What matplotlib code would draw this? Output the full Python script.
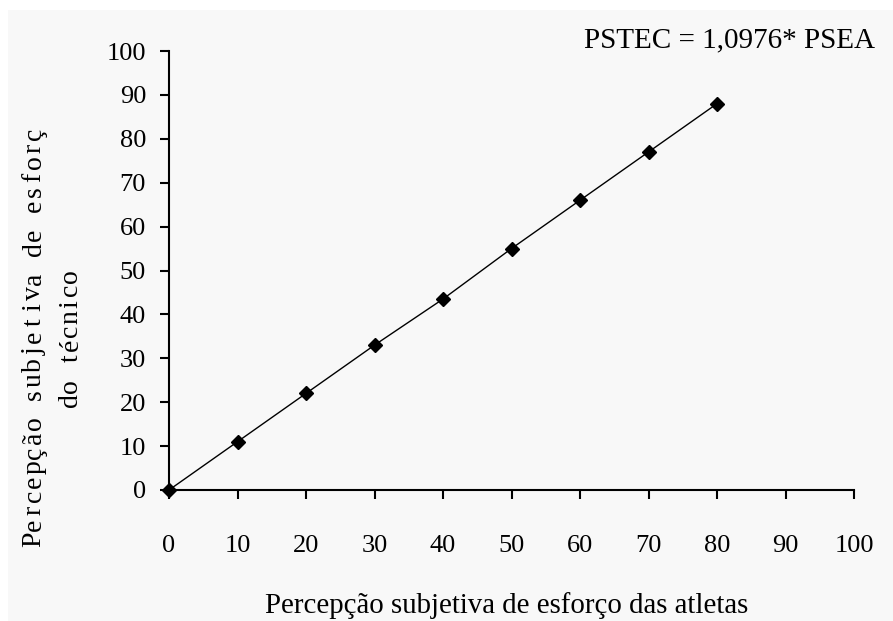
import numpy as np
import matplotlib
matplotlib.use('Agg')
import matplotlib.pyplot as plt
from matplotlib.patches import Rectangle
from matplotlib.transforms import Bbox

plt.rcParams['font.family'] = ['Liberation Serif', 'DejaVu Serif']

# data
psea = [0, 10, 20, 30, 40, 50, 60, 70, 80]
pstec = [0, 11, 22, 33, 43.5, 55, 66, 77, 88]
ticks = [0, 10, 20, 30, 40, 50, 60, 70, 80, 90, 100]

equation = 'PSTEC = 1,0976* PSEA'
xlabel = 'Percepção subjetiva de esforço das atletas'
ylabel1 = 'Percepção subjetiva de esforço'
ylabel2 = 'do técnico'

W, H = 893, 621
fig = plt.figure(figsize=(W / 100, H / 100), dpi=100, facecolor='white')
# light grey panel with a thin white border on top and left
fig.patches.append(Rectangle((8 / W, 0), 1, (H - 10) / H, transform=fig.transFigure,
                             facecolor='#f8f8f8', edgecolor='none', zorder=-10))

ax = fig.add_axes([169 / W, (H - 490) / H, (854 - 169) / W, (490 - 51) / H])
ax.set_facecolor('none')

ax.plot(psea, pstec, color='black', lw=1.0, marker='D', markersize=7.5,
        markerfacecolor='black', markeredgecolor='black', clip_on=False, zorder=3)

ax.set_xlim(0, 100)
ax.set_ylim(0, 100)
ax.set_xticks(ticks)
ax.set_yticks(ticks)
for s in ['top', 'right']:
    ax.spines[s].set_visible(False)
for s in ['left', 'bottom']:
    ax.spines[s].set_linewidth(1.5)
ax.tick_params(axis='both', direction='out', length=6.5, width=1.5, labelsize=19)
ax.tick_params(axis='x', pad=26)
ax.tick_params(axis='y', pad=10)

fig.text(875 / W, (H - 47) / H, equation, ha='right', va='baseline', fontsize=21)
fig.text(507 / W, (H - 613) / H, xlabel, ha='center', va='baseline', fontsize=20.8)

# y label: widely spaced letters, first line cut off at the top of the panel
clip = Bbox([[0, 0], [W, H - 130]])
for i, ch in enumerate(ylabel1):
    t = fig.text(34 / W, (H - 547 + 7.5 + i * 14.5) / H, ch, rotation=90,
                 ha='center', va='center', fontsize=20)
    t.set_clip_box(clip)
    t.set_clip_on(True)
n2 = len(ylabel2)
for i, ch in enumerate(ylabel2):
    yc = 338 - (i - (n2 - 1) / 2) * 13.7
    fig.text(71 / W, (H - yc) / H, ch, rotation=90, ha='center', va='center', fontsize=20)

fig.savefig('out.png', dpi=100, facecolor=fig.get_facecolor())
